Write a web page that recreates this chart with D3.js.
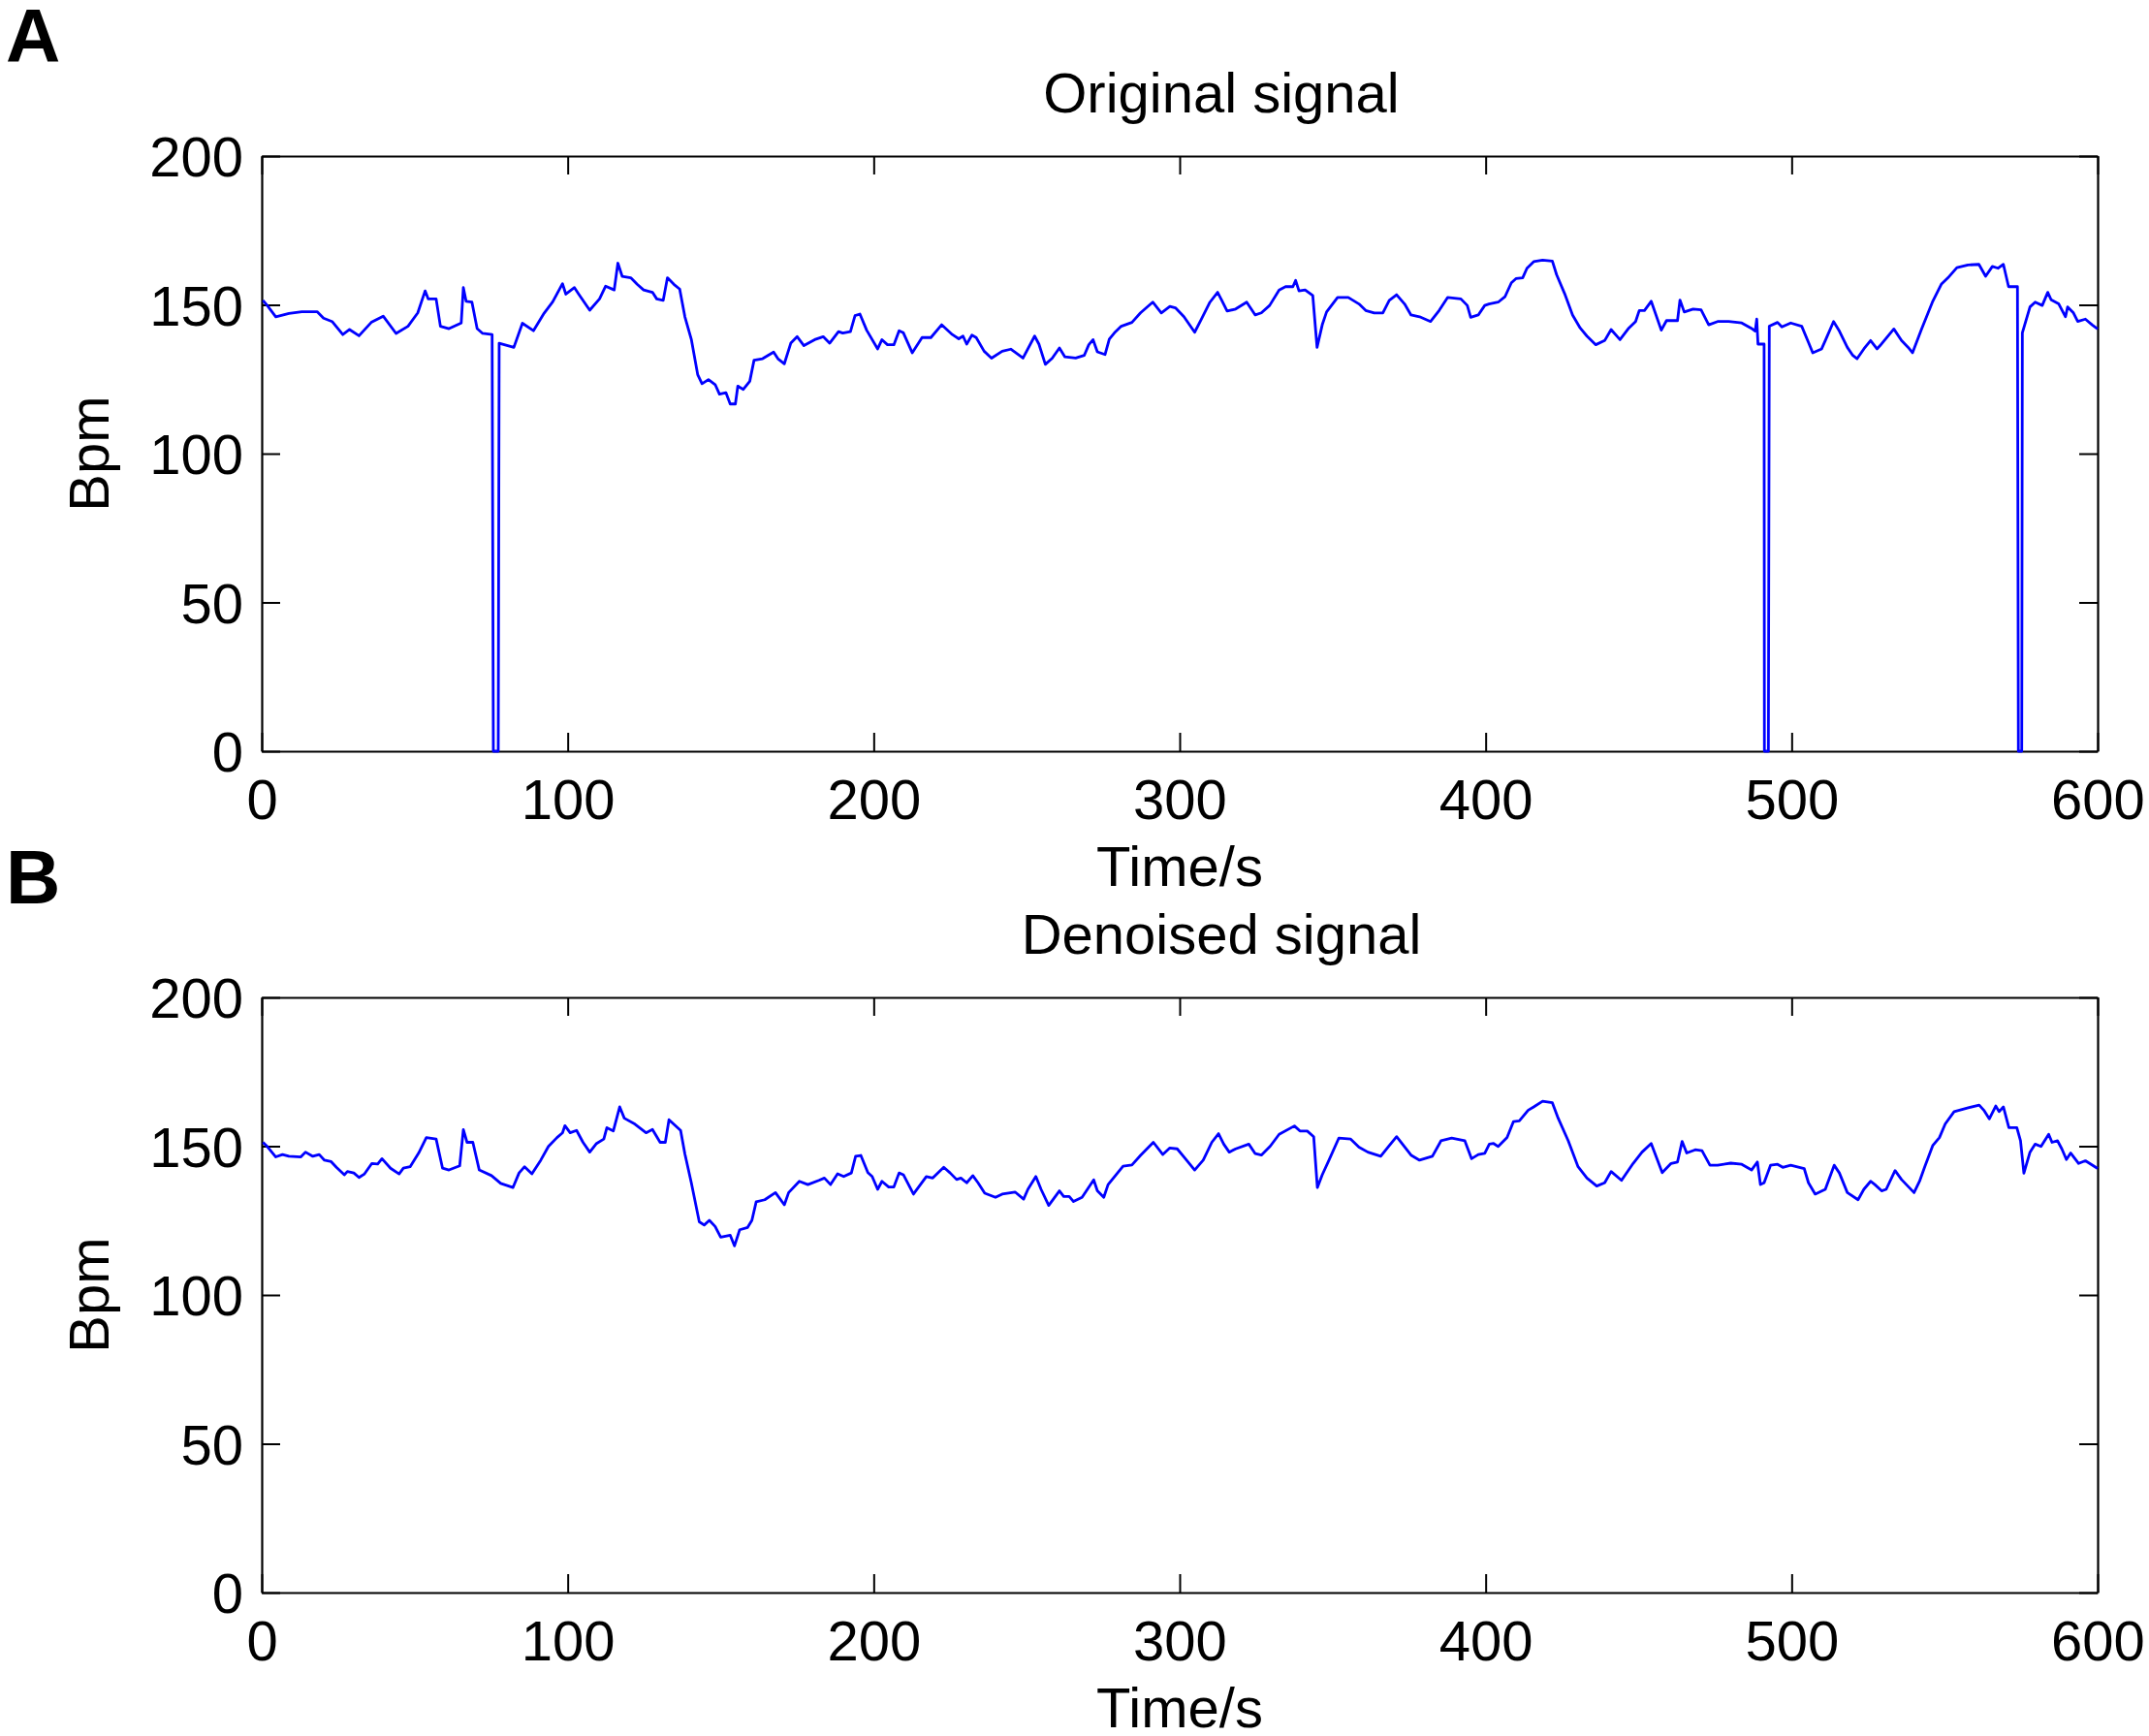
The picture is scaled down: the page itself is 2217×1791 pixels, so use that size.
<!DOCTYPE html>
<html>
<head>
<meta charset="utf-8">
<script src="https://cdn.jsdelivr.net/npm/d3@7"></script>
<style>
	body { margin: 0; background: #fff; }
	text { font-family: "Liberation Sans", Arial, sans-serif; fill: #000; }
</style>
</head>
<body>
<svg id="chart" width="2217" height="1791"></svg>
<script>
// heart rate, [time in s, bpm]
var originalSignal = [
	[0.4,151.5],[1.8,149.8],[4.6,146],[8.9,147.1],[13.1,147.7],[18.1,147.7],[20.2,145.5],[23,144.4],[26.5,140],[28.7,141.7],
	[31.8,139.6],[35.8,144.1],[39.7,146.2],[43.9,140.4],[47.8,142.8],[51,147.3],[53.4,154.7],[54.4,152],[57,152],[58.4,142.8],
	[61.2,142],[65.2,143.9],[65.9,155.8],[66.8,151.2],[68.7,150.9],[70.4,142],[72.2,140.4],[75.3,140],[75.7,0],[77.3,0],
	[77.6,137.1],[82.4,135.7],[85.2,143.8],[88.8,141.3],[92.3,147.2],[95.1,151],[98.3,157.1],[99.4,153.6],[102.2,155.8],[103.6,153.6],
	[107.2,148.2],[110.4,152],[112.4,156.3],[115.2,155],[116.4,164],[117.8,159.6],[120.6,159.1],[122.7,156.9],[124.8,155],[127.7,154.2],
	[129.1,152],[131.2,151.5],[132.6,159.1],[134.7,156.9],[136.6,155.3],[138.3,146],[140.4,138.4],[142.5,126.5],[143.9,123.5],[146,124.9],
	[148.2,123.2],[149.6,120],[151.7,120.5],[153.1,116.7],[154.8,116.7],[155.6,122.7],[157.4,121.6],[159.5,124.3],[160.9,131.4],[163.7,131.9],
	[167.3,134.1],[168.7,131.9],[170.8,130.2],[172.9,137.1],[175,139.3],[177.2,136.3],[180.7,138.3],[183.5,139.3],[185.6,137.1],[188.5,141],
	[189.9,140.5],[192.4,141],[193.9,146.4],[195.5,146.9],[197.7,141.5],[201.3,135.2],[202.7,138.3],[204.5,136.6],[206.6,136.6],[208.3,141.3],
	[209.7,140.6],[212.6,133.9],[215.8,139],[218.7,139],[222.2,143.3],[225.7,140],[227.8,138.6],[229.2,139.5],[230.4,136.8],[232.1,139.8],
	[233.5,139],[236.1,134.4],[238.5,132.1],[242,134.4],[244.8,135.1],[248.8,132.1],[252.6,139.5],[254,136.8],[256.1,130],[258.3,132],
	[260.7,135.5],[262.5,132.5],[266,132.1],[268.8,133],[270.3,136.6],[271.7,138.3],[273.1,134.2],[275.6,133.3],[277,138.5],[278.7,140.6],
	[280.9,142.8],[284.4,144.1],[287.2,147.3],[291.2,150.9],[294,147.3],[296.8,149.5],[298.6,149],[301.4,146],[304.9,140.8],[307,145],
	[309.9,150.9],[312.4,154.2],[313.8,151.4],[315.5,147.9],[318.3,148.6],[321.9,150.9],[324.7,146.6],[326.7,147.3],[329.4,149.8],[332.5,155],
	[334.6,156.1],[337,156.1],[337.9,158.2],[339,154.7],[341,155],[343.5,153.1],[344.9,135.7],[346.6,143.3],[348,147.6],[351.6,152.5],
	[355.1,152.5],[358.6,150.3],[360.8,148.1],[363.6,147.3],[366.4,147.3],[368.5,151.5],[370.9,153.4],[373.5,150.3],[375.6,146.6],[378.4,146],
	[382,144.4],[384.8,148.1],[387.6,152.5],[391.9,152],[394,149.8],[395.1,145.8],[397.6,146.6],[399.7,149.8],[401.1,150.3],[404.1,150.9],
	[406.3,152.7],[408.4,157.4],[409.9,158.8],[412.1,159.1],[413.5,162.3],[415.7,164.5],[418.6,165],[421.8,164.7],[423.2,160.1],[425.8,153.8],
	[428.4,146.6],[430.9,142.2],[433.1,139.5],[436,136.6],[438.9,138],[441,141.7],[443.9,138.3],[446.8,142.2],[449,144.4],[450.2,148.1],
	[451.9,148.1],[454.1,151.2],[457.4,141.5],[459.1,144.7],[462.7,144.7],[463.5,151.6],[464.9,147.6],[467.8,148.6],[470.4,148.3],[472.9,143.3],
	[475.8,144.4],[479.4,144.4],[483.7,143.9],[486.7,142.2],[488.1,141.2],[488.6,145.2],[489,136.8],[491,136.8],[491.1,0],[492.4,0],
	[492.7,142.8],[495.4,144.1],[496.8,142.6],[499.7,143.9],[503.3,142.8],[505.5,137.4],[506.9,133.9],[509.8,135.2],[511,138],[513.7,144.4],
	[515.6,141.2],[518.2,135.7],[520,133],[521.4,131.9],[523.6,135.2],[525.8,138],[527.9,135.2],[528.9,136.3],[533.4,141.9],[535.9,138],
	[538.1,135.7],[539.5,133.9],[542.4,141.7],[546,150.9],[548.9,156.9],[551.1,159.1],[554,162.5],[557.6,163.4],[561.2,163.6],[563.4,159.6],
	[565.6,162.9],[567.5,162.3],[569.2,163.6],[570.9,156.1],[573.8,156.1],[574.1,0],[575.2,0],[575.4,140.6],[577.9,149.3],[579.6,150.9],
	[581.9,149.8],[583.7,154.2],[584.8,151.7],[587.3,150.3],[589.5,146],[590.2,149.3],[592.1,147.3],[593.5,144.4],[596,145.2],[598.2,143.3],
	[600,141.9]
];

var denoisedSignal = [
	[0.4,151.3],[1.8,149.9],[4.6,146.4],[6.8,147.2],[8.9,146.6],[12.8,146.4],[14.3,148],[16.7,146.6],[18.8,147.2],[20.5,145.3],
	[22.7,144.8],[24.4,142.9],[27,140.4],[28,141.5],[30.1,141],[31.8,139.5],[33.6,140.7],[36,144.2],[37.9,144],[39.3,145.8],
	[42.1,142.6],[44.9,140.7],[46.3,142.6],[48.5,143.1],[51.3,147.7],[53.8,152.9],[57,152.4],[59.1,142.6],[61.2,142],[64.7,143.4],
	[65.9,155.6],[67.1,151.3],[69,151.3],[71.1,142],[75.1,140.1],[78.1,137.5],[82.1,136.1],[84.1,141],[85.9,143.1],[88.3,140.7],
	[91.2,145.3],[93.7,149.9],[96.5,152.9],[98.3,154.5],[99.1,156.9],[100.8,154.5],[102.9,155.3],[105,151.3],[107.2,148],[109.3,150.8],
	[111.8,152.4],[112.8,156.2],[114.9,155.1],[117,163.2],[118.5,159.4],[122,157.4],[125.6,154.5],[127.7,155.6],[130.2,151.3],[131.9,151.3],
	[133.1,158.9],[136.9,155.3],[138.3,147.4],[140.4,137.7],[143,124.6],[144.6,123.5],[146.3,125.1],[148.2,123],[150,119.4],[153.1,120.1],
	[154.5,116.5],[156.2,121.9],[158.8,122.7],[160.2,125.1],[161.6,131.3],[164.4,132],[167.9,134.4],[170.8,130.3],[172.2,134.4],[175.7,138.2],
	[178.5,137.1],[182.1,138.5],[183.9,139.3],[185.9,137.1],[188.2,140.7],[190.2,139.8],[192.7,141],[194.1,146.6],[195.8,146.9],[198.1,141.1],
	[199.5,139.8],[201.3,135.5],[202.7,138.2],[204.9,136.3],[206.6,136.3],[208.3,141],[209.7,140.4],[213,133.9],[217.2,139.8],[219.3,139.3],
	[222.9,142.9],[225,141],[227.1,138.8],[228.5,139.3],[230.4,137.7],[232.4,140.1],[234.1,137.7],[236.3,134.2],[239.8,132.8],[242,133.9],
	[246.2,134.6],[249,132.2],[250.4,135.5],[253,139.8],[254.7,135.5],[257.2,130.1],[260.7,135],[262.1,133.1],[263.9,133.1],[265.3,131.4],
	[268.1,132.8],[271.9,138.7],[273.1,135],[275.2,132.8],[276.6,137.1],[281.5,143.3],[284.4,143.7],[287.2,146.9],[291.4,151.3],[294.5,147.2],
	[296.8,149.4],[299.2,149.1],[301.4,146.4],[304.9,142],[307.7,145.3],[310.5,151.3],[312.7,154.2],[314.4,150.7],[316.2,148],[318.3,149.1],
	[322.6,150.7],[324.7,147.5],[326.7,147],[329.6,150],[332.5,154],[337.5,156.8],[339.3,155.1],[341.7,155.1],[343.8,153.2],[345,136.1],
	[346.6,140.4],[348.8,145.3],[352,152.7],[355.9,152.4],[358.6,149.7],[361.5,148],[365.7,146.6],[368.5,150.2],[370.9,153.2],[375.6,147],
	[378.4,145.3],[382.6,146.6],[385.4,151.8],[388.9,152.7],[393.2,151.8],[395.4,145.8],[397.6,147.2],[399.7,147.6],[401.2,150.7],[402.6,150.9],
	[404.1,149.9],[407,152.9],[409.1,158.3],[411,158.5],[413.9,162.1],[415.7,163.2],[418.6,165.1],[421.8,164.6],[423.7,159.4],[427,151.8],
	[430.2,143.1],[433.1,139.3],[436.3,136.6],[438.9,137.7],[441,141.5],[444.4,138.5],[448.2,144.2],[451.1,148],[454.1,150.9],[457.7,141.1],
	[460.6,144.2],[462.7,144.7],[464.2,151.6],[465.7,147.7],[468.5,148.8],[470.7,148.5],[473.3,143.6],[475.8,143.6],[480.1,144.3],[483.7,143.9],
	[486.9,142],[488.8,144.7],[489.8,137.1],[491,137.7],[493.1,143.6],[495.4,143.9],[497.1,142.9],[499.7,143.6],[504.1,142.5],[505.5,137.7],
	[507.7,133.9],[511,135.5],[513.9,143.6],[515.6,141],[518.2,134.4],[521.7,132],[523.6,135.5],[525.8,138.2],[527.2,137.1],[529.4,135],
	[530.9,135.5],[533.8,141.8],[535.9,138.8],[540,134.4],[541.8,138.2],[543.5,143.1],[546.1,150.2],[548.3,152.9],[550.2,157.5],[553.1,161.6],
	[557.7,162.9],[561.3,163.8],[562.8,162.1],[564.6,159.2],[566.7,163.5],[567.8,161.6],[569.2,163.2],[571,156.2],[573.6,156.2],[574.8,151.8],
	[575.9,140.9],[577.9,148],[579.6,150.7],[581.5,149.9],[584,154],[585.1,151.3],[586.9,151.8],[588.3,149.1],[589.8,145.5],[591.2,147.7],
	[593.8,144.2],[596,145.1],[600,142.5]
];

var timeTicks = [0, 100, 200, 300, 400, 500, 600];
var bpmTicks = [0, 50, 100, 150, 200];

var panels = [
	{ letter: "A", title: "Original signal", data: originalSignal, top: 161 },
	{ letter: "B", title: "Denoised signal", data: denoisedSignal, top: 1029 }
];

var svg = d3.select("#chart");
svg.append("rect").attr("width", 2217).attr("height", 1791).attr("fill", "#fff");

var left = 270, right = 2164, plotH = 614;
var fontSize = 58;

panels.forEach(function (p) {
	var x = d3.scaleLinear().domain([0, 600]).range([left, right]);
	var y = d3.scaleLinear().domain([0, 200]).range([p.top + plotH, p.top]);

	var g = svg.append("g");

	// inward ticks on all four sides, like a matlab box
	g.append("g")
		.attr("transform", "translate(0," + (p.top + plotH) + ")")
		.call(d3.axisBottom(x).tickValues(timeTicks).tickSize(-19).tickSizeOuter(0).tickPadding(29));
	g.append("g")
		.attr("transform", "translate(0," + p.top + ")")
		.call(d3.axisTop(x).tickValues(timeTicks).tickSize(-19).tickSizeOuter(0).tickFormat(""));
	var leftAx = g.append("g")
		.attr("transform", "translate(" + left + ",0)")
		.call(d3.axisLeft(y).tickValues(bpmTicks).tickSize(-19).tickSizeOuter(0).tickPadding(19));
	g.append("g")
		.attr("transform", "translate(" + right + ",0)")
		.call(d3.axisRight(y).tickValues(bpmTicks).tickSize(-19).tickSizeOuter(0).tickFormat(""));

	g.selectAll(".domain").attr("stroke", "#000").attr("stroke-width", 2.2);
	g.selectAll(".tick line").attr("stroke", "#000").attr("stroke-width", 2);
	g.selectAll(".tick text")
		.attr("font-family", "'Liberation Sans', Arial, sans-serif")
		.attr("font-size", fontSize)
		.attr("fill", "#000");
	leftAx.selectAll(".tick text").attr("dy", "0.36em");

	var line = d3.line()
		.x(function (d) { return x(d[0]); })
		.y(function (d) { return y(d[1]); });

	g.append("path")
		.datum(p.data)
		.attr("d", line)
		.attr("fill", "none")
		.attr("stroke", "#0000ff")
		.attr("stroke-width", 2.8)
		.attr("stroke-linejoin", "round");

	g.append("text")
		.attr("x", 1260)
		.attr("y", p.top - 45)
		.attr("text-anchor", "middle")
		.attr("font-size", fontSize)
		.text(p.title);

	g.append("text")
		.attr("x", (left + right) / 2)
		.attr("y", p.top + plotH + 139)
		.attr("text-anchor", "middle")
		.attr("font-size", fontSize)
		.text("Time/s");

	g.append("text")
		.attr("transform", "translate(112," + (p.top + plotH / 2) + ") rotate(-90)")
		.attr("text-anchor", "middle")
		.attr("font-size", fontSize)
		.text("Bpm");

	g.append("text")
		.attr("x", 6)
		.attr("y", p.top - 97)
		.attr("font-size", 78)
		.attr("font-weight", "bold")
		.text(p.letter);
});
</script>
</body>
</html>
